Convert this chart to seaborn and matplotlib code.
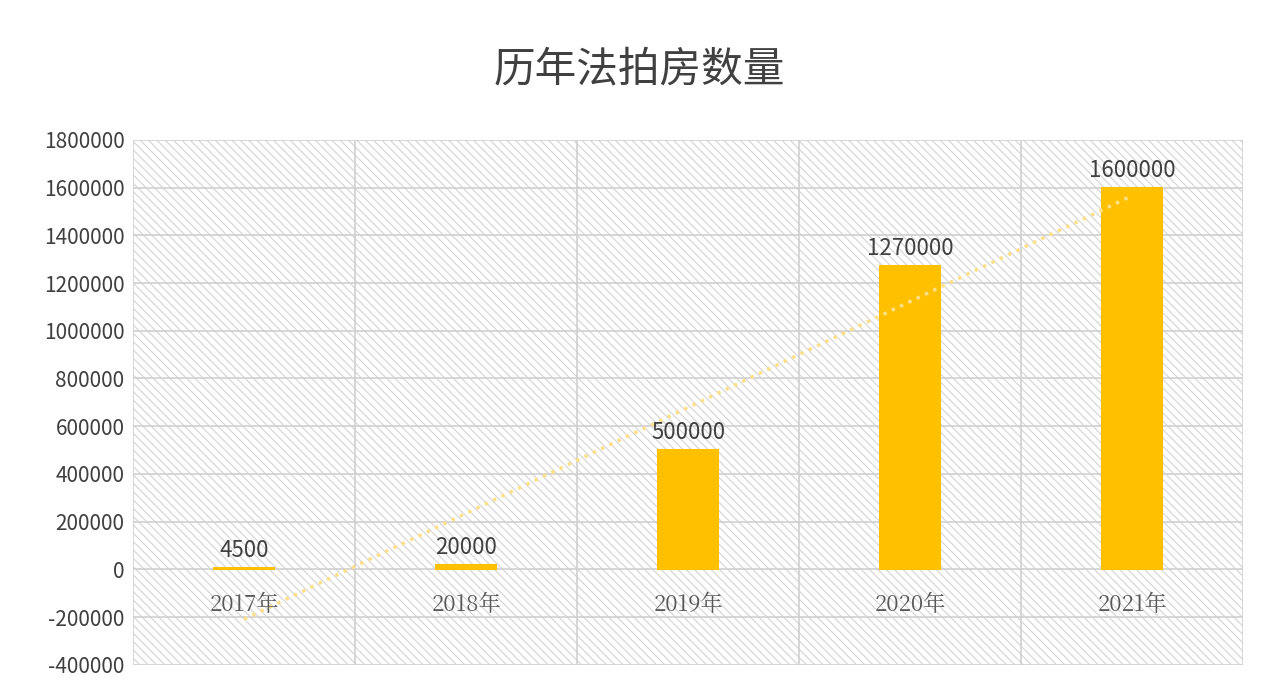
import numpy as np
import pandas as pd
import seaborn as sns
import matplotlib.pyplot as plt
from matplotlib.patches import Rectangle

years = ['2017年', '2018年', '2019年', '2020年', '2021年']
counts = [4500, 20000, 500000, 1270000, 1600000]
df = pd.DataFrame({'year': years, 'count': counts})

sns.set_style("white")
plt.rcParams['font.family'] = ['Noto Sans CJK SC', 'DejaVu Sans']
plt.rcParams['hatch.linewidth'] = 0.8
plt.rcParams['hatch.color'] = '#d4d4d4'

fig = plt.figure(figsize=(12.78, 6.86), dpi=100)
ax = fig.add_axes([0.104, 0.031, 0.869, 0.765])

ax.add_patch(Rectangle((0, 0), 1, 1, transform=ax.transAxes, facecolor='white',
                       edgecolor='#d4d4d4', hatch='\\\\\\\\', lw=0, zorder=0))

sns.barplot(data=df, x='year', y='count', color='#ffc000', width=0.27,
            saturation=1, ax=ax, zorder=3, edgecolor='#ffc000', linewidth=1.5)

ax.set_xlim(-0.5, 4.5)
ax.set_ylim(-400000, 1800000)
ax.set_yticks(np.arange(-400000, 1800001, 200000))
ax.set_yticklabels([str(v) for v in range(-400000, 1800001, 200000)],
                   fontsize=15, color='#404040')
for v in range(-400000, 1800001, 200000):
    ax.axhline(v, color='#d0d0d0', lw=1.2, zorder=1)
for i in range(6):
    ax.axvline(i - 0.5, color='#d0d0d0', lw=1.2, zorder=1)

# linear trendline
xs = np.arange(len(counts))
k, b = np.polyfit(xs, counts, 1)
ax.plot(xs, k * xs + b, ls=':', color='#ffe08a', lw=2.5, zorder=4)

for i, v in enumerate(counts):
    ax.text(i, v + 25000, str(v), ha='center', va='bottom', fontsize=16, color='#404040', zorder=5)
    ax.text(i, -150000, years[i], ha='center', va='center', fontsize=16, color='#595959',
            family=['Noto Serif CJK SC', 'Noto Sans CJK SC', 'DejaVu Serif'], zorder=5)

ax.set_xticks([])
ax.set_xlabel('')
ax.set_ylabel('')
ax.tick_params(axis='y', length=0, pad=6)
for s in ax.spines.values():
    s.set_visible(False)

fig.text(0.5, 0.898, '历年法拍房数量', ha='center', va='center', fontsize=30, color='#404040')
fig.savefig('out.png', dpi=100)
